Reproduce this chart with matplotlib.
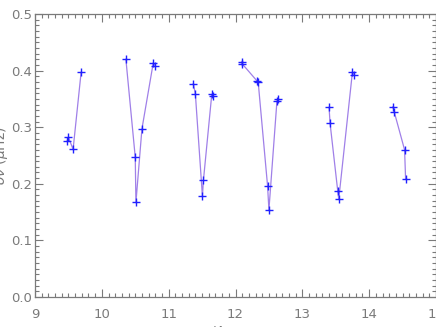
import numpy as np
import matplotlib
matplotlib.use('Agg')
import matplotlib.pyplot as plt
from matplotlib.ticker import MultipleLocator

# groups of points (nu/dnu - eps, delta nu in muHz)
x1 = [9.48, 9.50, 9.57, 9.69]
y1 = [0.275, 0.282, 0.261, 0.397]
x2 = [10.36, 10.50, 10.51, 10.60, 10.77, 10.80]
y2 = [0.420, 0.247, 0.167, 0.297, 0.414, 0.408]
x3 = [11.37, 11.40, 11.505, 11.52, 11.645, 11.66]
y3 = [0.377, 0.358, 0.178, 0.206, 0.358, 0.356]
x4 = [12.09, 12.10, 12.32, 12.34, 12.48, 12.50, 12.62, 12.64]
y4 = [0.415, 0.412, 0.382, 0.379, 0.196, 0.154, 0.346, 0.349]
x5 = [13.40, 13.415, 13.53, 13.545, 13.75, 13.775]
y5 = [0.335, 0.307, 0.187, 0.173, 0.398, 0.392]
x6 = [14.355, 14.375, 14.53, 14.545]
y6 = [0.336, 0.327, 0.260, 0.209]

groups = [(x1, y1), (x2, y2), (x3, y3), (x4, y4), (x5, y5), (x6, y6)]

grey = '#7a7a7a'
fig = plt.figure(figsize=(4.36, 3.27), dpi=100)
ax = fig.add_axes([35/436, 1 - 297/327, 401/436, 283/327])

for gx, gy in groups:
    ax.plot(gx, gy, '-', color='#a080e8', lw=0.9, zorder=2)
    ax.plot(gx, gy, '+', color='#2020ff', ms=6, mew=1.0, zorder=3)

ax.set_xlim(9, 15)
ax.set_ylim(0, 0.5)
ax.xaxis.set_major_locator(MultipleLocator(1))
ax.xaxis.set_minor_locator(MultipleLocator(0.1))
ax.yaxis.set_major_locator(MultipleLocator(0.1))
ax.yaxis.set_minor_locator(MultipleLocator(0.01))
ax.xaxis.set_major_formatter(plt.FuncFormatter(lambda v, p: '%d' % v))
ax.yaxis.set_major_formatter(plt.FuncFormatter(lambda v, p: '%.1f' % v))

ax.tick_params(which='both', direction='in', top=True, right=True,
               color=grey, labelcolor=grey, labelsize=9.5, width=0.8)
ax.tick_params(which='major', length=6)
ax.tick_params(which='minor', length=3)
ax.tick_params(axis='x', pad=8)
ax.tick_params(axis='y', pad=2)
for s in ax.spines.values():
    s.set_color(grey)
    s.set_linewidth(0.9)

ax.set_xlabel(r'$\nu/\Delta\nu\ -\ \epsilon$', color=grey, fontsize=10)
ax.set_ylabel(r'$\delta\nu$ ($\mu$Hz)', color=grey, fontsize=10)
ax.xaxis.set_label_coords(0.5, -0.095)
ax.yaxis.set_label_coords(-0.062, 0.5)

fig.savefig('out.png', dpi=100)
